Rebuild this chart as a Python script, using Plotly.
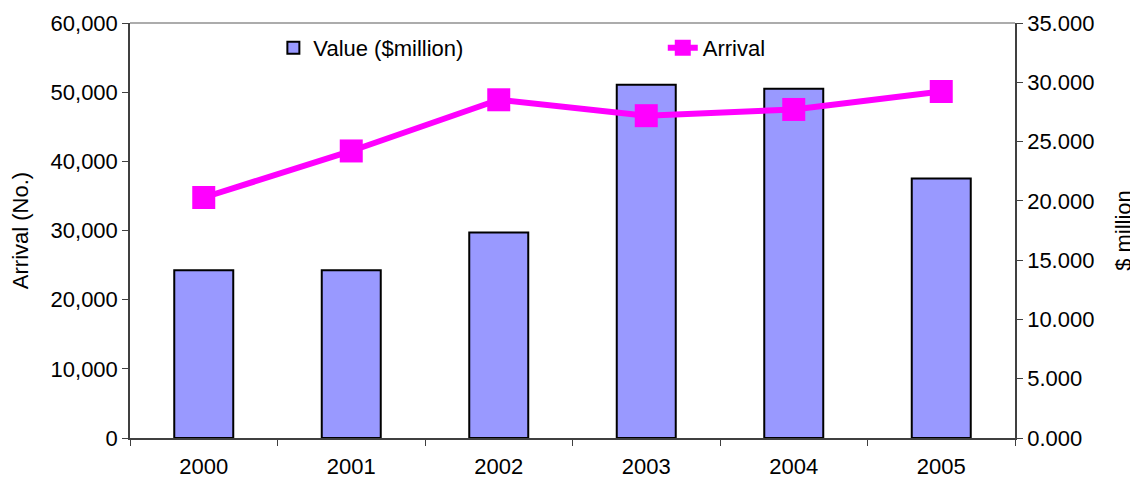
import plotly.graph_objects as go

years = ["2000", "2001", "2002", "2003", "2004", "2005"]
value_musd = [14.15, 14.15, 17.33, 29.80, 29.46, 21.88]
arrivals = [34770, 41500, 48900, 46600, 47500, 50100]

FONT = "Liberation Sans, Arial, sans-serif"
FS = 22

fig = go.Figure()
fig.add_trace(go.Bar(
    x=years, y=value_musd, name="Value ($million)",
    marker=dict(color="#9999FF", line=dict(color="#000000", width=2)),
    yaxis="y", legend="legend",
))
fig.add_trace(go.Scatter(
    x=years, y=arrivals, name="Arrival", mode="lines+markers",
    line=dict(color="#FF00FF", width=6),
    marker=dict(symbol="square", size=23, color="#FF00FF"),
    yaxis="y2", legend="legend2",
))

fig.update_layout(
    width=1138, height=479,
    margin=dict(l=122, r=131, t=15, b=49, autoexpand=False),
    paper_bgcolor="white", plot_bgcolor="white",
    font=dict(family=FONT, size=FS, color="#000000"),
    bargap=0.6,
    showlegend=True,
    legend=dict(x=0.162, y=0.94, xanchor="left", yanchor="middle",
                bgcolor="rgba(0,0,0,0)", font=dict(size=FS)),
    legend2=dict(x=0.602, y=0.94, xanchor="left", yanchor="middle",
                 bgcolor="rgba(0,0,0,0)", font=dict(size=FS)),
    xaxis=dict(
        type="category", showline=True, linecolor="#404040", linewidth=1.5,
        ticks="outside", tickson="boundaries", ticklen=6, tickcolor="#404040",
        showgrid=False, tickfont=dict(size=FS), ticklabelstandoff=8,
        automargin=False,
    ),
    yaxis=dict(
        side="right", range=[0, 35], dtick=5, tickformat=".3f",
        showline=True, linecolor="#404040", linewidth=1.5,
        ticks="outside", ticklen=6, tickcolor="#404040",
        showgrid=False, zeroline=False, automargin=False,
        title=dict(text="$ million", standoff=22, font=dict(size=FS)),
        tickfont=dict(size=FS),
    ),
    yaxis2=dict(
        side="left", overlaying="y", range=[0, 60000], dtick=10000,
        tickformat=",d", showline=True, linecolor="#404040", linewidth=1.5,
        ticks="outside", ticklen=6, tickcolor="#404040",
        showgrid=False, zeroline=False, automargin=False,
        title=dict(text="Arrival (No.)", standoff=22, font=dict(size=FS)),
        tickfont=dict(size=FS),
    ),
    shapes=[dict(type="line", xref="paper", yref="paper", x0=0, x1=1, y0=1, y1=1,
                 line=dict(color="#909090", width=1.5))],
)

fig.write_html("out.html")
